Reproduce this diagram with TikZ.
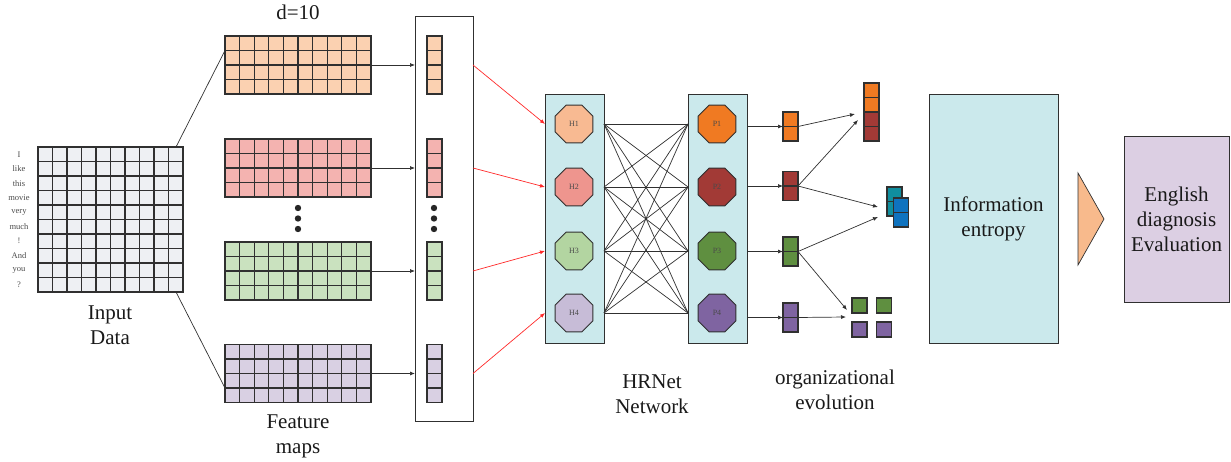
\documentclass[tikz,border=0pt]{standalone}
\usepackage{fontspec}
\setmainfont{Liberation Serif}
\usetikzlibrary{arrows.meta,calc,shapes.geometric,positioning}

\definecolor{linegrey}{HTML}{303030}
\definecolor{inputgrey}{HTML}{EEF0F3}
\definecolor{mapA}{HTML}{FBD1B1}
\definecolor{mapB}{HTML}{F4B3B0}
\definecolor{mapC}{HTML}{CAE2BF}
\definecolor{mapD}{HTML}{D9D0E3}
\definecolor{boxcyan}{HTML}{CBE9EC}
\definecolor{hA}{HTML}{F8BA92}
\definecolor{hB}{HTML}{EE958E}
\definecolor{hC}{HTML}{B3D5A1}
\definecolor{hD}{HTML}{C7BCD7}
\definecolor{pA}{HTML}{F07A22}
\definecolor{pB}{HTML}{A23A36}
\definecolor{pC}{HTML}{5F8F40}
\definecolor{pD}{HTML}{7F64A1}
\definecolor{tealblk}{HTML}{108E9E}
\definecolor{blueblk}{HTML}{0F73BF}
\definecolor{evalpurple}{HTML}{DCCFE3}
\definecolor{trifill}{HTML}{F8BA8C}
\definecolor{arrowred}{HTML}{FF2A2A}
\definecolor{textgrey}{HTML}{4A4A4A}

\tikzset{
  gridline/.style={draw=linegrey, line width=1.1pt},
  cellbox/.style={rectangle, draw=linegrey, line width=1.1pt, inner sep=0pt, outer sep=0pt},
  frame/.style={rectangle, draw=linegrey, line width=1pt, inner sep=0pt, outer sep=0pt},
  octa/.style={regular polygon, regular polygon sides=8, draw=linegrey, line width=0.9pt,
    minimum size=41pt, inner sep=0pt, text=textgrey, font=\fontsize{8}{9}\selectfont},
  bigtext/.style={align=center, text=black!90, font=\fontsize{21}{25}\selectfont},
  word/.style={text=textgrey, font=\fontsize{8.5}{10}\selectfont},
  thinline/.style={draw=linegrey, line width=0.7pt},
  flow/.style={thinline, -{Latex[length=5pt,width=4pt]}},
  redflow/.style={draw=arrowred, line width=0.7pt, -{Latex[length=5pt,width=4pt]}},
}

% cells inside a rectangular node: node, columns, rows
\newcommand{\cellgrid}[3]{%
  \pgfmathtruncatemacro{\lastcol}{#2-1}%
  \pgfmathtruncatemacro{\lastrow}{#3-1}%
  \ifnum\lastcol>0
    \foreach \gx in {1,...,\lastcol}
      \draw[gridline] ($(#1.north west)!\gx/#2!(#1.north east)$) -- ($(#1.south west)!\gx/#2!(#1.south east)$);
  \fi
  \ifnum\lastrow>0
    \foreach \gy in {1,...,\lastrow}
      \draw[gridline] ($(#1.north west)!\gy/#3!(#1.south west)$) -- ($(#1.north east)!\gy/#3!(#1.south east)$);
  \fi
}

\begin{document}
\begin{tikzpicture}[x=1pt, y=-1pt]
  \useasboundingbox (0,0) rectangle (1231,462);

  % Input data
  \node[cellbox, fill=inputgrey, minimum width=145pt, minimum height=145pt] (input) at (110.5,219.5) {};
  \cellgrid{input}{10}{10}
  \foreach \w [count=\k from 0] in {I,like,this,movie,very,much,!,And,you,?}
    \node[word] (w\k) at (19,154.25+14.5*\k) {\w};
  \node[bigtext] (inputlbl) at (110,325) {Input\\Data};

  % Feature maps
  \node[bigtext] (dlbl) at (298,12) {d=10};
  \node[frame, minimum width=58pt, minimum height=404pt] (stackbox) at (444,219) {};
  \foreach \i/\y/\col in {1/65/mapA, 2/168/mapB, 3/271/mapC, 4/373.5/mapD} {
    \node[cellbox, fill=\col, minimum width=146pt, minimum height=58pt] (fmap\i) at (298,\y) {};
    \cellgrid{fmap\i}{10}{4}
    \node[cellbox, fill=\col, minimum width=15pt, minimum height=58pt] (vec\i) at (434.5,\y) {};
    \cellgrid{vec\i}{1}{4}
    \draw[flow] (fmap\i.east) -- (fmap\i.east -| stackbox.west);
  }
  \foreach \x in {298,434}
    \foreach \y in {208,218.5,229}
      \fill[black!85] (\x,\y) circle (3.2pt);
  \node[bigtext] (fmaplbl) at (298,436) {Feature\\maps};

  \draw[thinline] ($(input.north east)+(-7,0)$) -- ($(fmap1.north west)!0.25!(fmap1.south west)$);
  \draw[thinline] ($(input.south east)+(-7,0)$) -- ($(fmap4.north west)!0.75!(fmap4.south west)$);

  % HRNet
  \node[frame, fill=boxcyan, minimum width=59pt, minimum height=248pt] (hbox) at (574.5,219) {};
  \node[frame, fill=boxcyan, minimum width=59pt, minimum height=248pt] (pbox) at (717.5,219) {};
  \foreach \i/\y/\hc/\pc in {1/124/hA/pA, 2/187/hB/pB, 3/251/hC/pC, 4/313/hD/pD} {
    \node[octa, fill=\hc] (h\i) at (574,\y) {H\i};
    \node[octa, fill=\pc] (p\i) at (717,\y) {P\i};
  }
  \foreach \i in {1,...,4}
    \foreach \j in {1,...,4}
      \draw[thinline] (hbox.east |- h\i) -- (pbox.west |- p\j);
  \foreach \i in {1,...,4}
    \draw[redflow] (stackbox.east |- vec\i) -- (hbox.west |- h\i);
  \node[bigtext] (hrnetlbl) at (652,394) {HRNet\\Network};

  % Organizational evolution
  \foreach \i/\y/\col in {1/126.5/pA, 2/186/pB, 3/251.5/pC, 4/317.5/pD} {
    \node[cellbox, fill=\col, minimum width=15pt, minimum height=29pt] (o\i) at (790.5,\y) {};
    \cellgrid{o\i}{1}{2}
    \draw[flow] (pbox.east |- o\i) -- (o\i.west);
  }
  \node[cellbox, fill=pA, minimum width=15pt, minimum height=29pt] (stkA) at (871.5,97.5) {};
  \cellgrid{stkA}{1}{2}
  \node[cellbox, fill=pB, minimum width=15pt, minimum height=29pt] (stkB) at (871.5,126.5) {};
  \cellgrid{stkB}{1}{2}
  \node[cellbox, fill=tealblk, minimum width=15pt, minimum height=29pt] (tealcol) at (894.5,201.5) {};
  \cellgrid{tealcol}{1}{2}
  \node[cellbox, fill=blueblk, minimum width=15pt, minimum height=29pt] (bluecol) at (901,212.5) {};
  \cellgrid{bluecol}{1}{2}
  \node[cellbox, fill=pC, minimum size=15pt] (sq1) at (859.5,305.5) {};
  \node[cellbox, fill=pC, minimum size=15pt] (sq2) at (884,305.5) {};
  \node[cellbox, fill=pD, minimum size=15pt] (sq3) at (859.5,329.5) {};
  \node[cellbox, fill=pD, minimum size=15pt] (sq4) at (884,329.5) {};

  \coordinate (t1) at (855,114);
  \coordinate (t2) at (858,120);
  \coordinate (b1) at (878,207);
  \coordinate (b2) at (878,217);
  \coordinate (g1) at (847,310);
  \coordinate (g2) at (846,317);
  \draw[flow] (o1.east) -- (t1);
  \draw[flow] (o2.east) -- (t2);
  \draw[flow] (o2.east) -- (b1);
  \draw[flow] (o3.east) -- (b2);
  \draw[flow] (o3.east) -- (g1);
  \draw[flow] (o4.east) -- (g2);
  \node[bigtext] (evolbl) at (835,390) {organizational\\evolution};

  % Entropy and evaluation
  \node[frame, fill=boxcyan, minimum width=129pt, minimum height=248pt, bigtext] (infobox) at (993.5,219) {Information\\entropy};
  \draw[thinline, fill=trifill] (1078,173) -- (1104,219) -- (1078,265) -- cycle;
  \node[frame, fill=evalpurple, minimum width=105pt, minimum height=165pt, bigtext] (evalbox) at (1176.5,219.5) {English\\diagnosis\\Evaluation};
\end{tikzpicture}
\end{document}
